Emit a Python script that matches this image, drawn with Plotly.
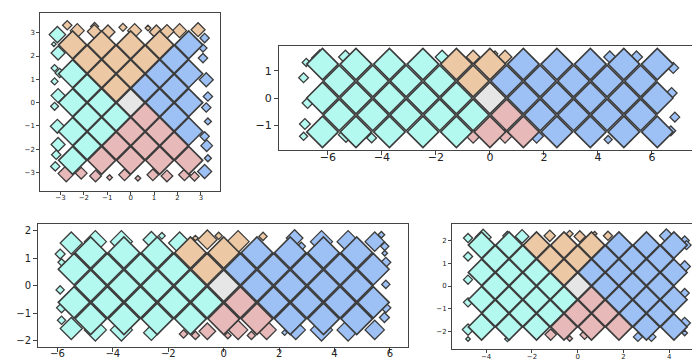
import plotly.graph_objects as go

# ---------------- data ----------------
# Panel 1 (top-left): main lattice columns / rows and edge diamonds
p1_cols = [-2.48, -1.86, -1.24, -0.62, 0.0, 0.62, 1.24, 1.86, 2.48]
p1_rows = [-2.48, -1.86, -1.24, -0.62, 0.0, 0.62, 1.24, 1.86, 2.48]
p1_half = 0.6
p1_edge_x = [-2.71, -2.28, -1.54, -0.97, -0.33, 0.17, 0.74, 1.10, 2.09, 2.88, 3.16, -3.13,
             -3.28, -3.10, -3.25, -3.03, -3.25, -3.10, -3.25, -3.13, -3.10, -3.18, -3.22,
             3.09, 3.09, 3.23, 3.30, 3.23, 3.30, 3.16, 3.25, 3.30, 3.16,
             -2.75, -2.11, -1.50, -0.90, -0.26, 0.31, 0.95, 1.55, 2.30, 2.73, -1.55, 1.55]
p1_edge_y = [3.32, 3.09, 3.27, 3.03, 3.23, 3.09, 3.20, 3.03, 3.09, 3.13, 2.77, 2.92,
             2.51, 2.13, 1.48, 1.27, 0.91, 0.30, -0.16, -1.02, -1.80, -2.24, -2.74,
             2.34, 1.91, 0.98, 0.26, -0.21, -0.81, -1.45, -1.85, -2.39, -2.96,
             -3.05, -3.03, -3.15, -3.22, -3.10, -3.25, -3.10, -3.15, -3.10, -3.17, 3.05, 3.05]
p1_edge_h = [0.20, 0.30, 0.17, 0.30, 0.17, 0.30, 0.12, 0.30, 0.30, 0.30, 0.20, 0.35,
             0.10, 0.30, 0.15, 0.20, 0.15, 0.30, 0.17, 0.30, 0.30, 0.20, 0.20,
             0.17, 0.20, 0.30, 0.20, 0.20, 0.15, 0.20, 0.25, 0.15, 0.30,
             0.35, 0.25, 0.25, 0.12, 0.25, 0.12, 0.25, 0.25, 0.25, 0.20, 0.30, 0.30]

# Panel 2 (top-right)
p2_cols = [-6.2, -5.58, -4.96, -4.34, -3.72, -3.1, -2.48, -1.86, -1.24, -0.62, 0.0,
           0.62, 1.24, 1.86, 2.48, 3.1, 3.72, 4.34, 4.96, 5.58, 6.2]
p2_rows = [-1.24, -0.62, 0.0, 0.62, 1.24]
p2_half = 0.58
p2_edge_x = [-6.30, -5.35, -1.77, -0.62, 0.19, 0.56, 4.44, 5.43, 6.30,
             -6.90, -5.33, -4.38, -0.62, 0.56, 1.73, 4.38, 5.19, 6.30,
             -6.90, -6.75, -6.85, -6.80, 6.79, 6.73, 6.85, 6.70]
p2_edge_y = [1.46, 1.50, 1.50, 1.50, 1.62, 1.50, 1.50, 1.50, 1.45,
             -1.40, -1.34, -1.46, -1.40, -1.40, -1.40, -1.52, -1.50, -1.40,
             0.74, -0.18, -0.95, 1.30, 1.10, 0.18, -0.70, -1.20]
p2_edge_h = [0.30, 0.25, 0.25, 0.25, 0.10, 0.25, 0.22, 0.22, 0.25,
             0.15, 0.28, 0.18, 0.25, 0.25, 0.25, 0.15, 0.08, 0.25,
             0.18, 0.20, 0.20, 0.15, 0.20, 0.20, 0.18, 0.18]

# Panel 3 (bottom-left)
p3_cols = [-5.4, -4.8, -4.2, -3.6, -3.0, -2.4, -1.8, -1.2, -0.6, 0.0,
           0.6, 1.2, 1.8, 2.4, 3.0, 3.6, 4.2, 4.8, 5.4]
p3_rows = [-1.2, -0.6, 0.0, 0.6, 1.2]
p3_half = 0.57
p3_edge_x = [-5.50, -4.63, -3.69, -2.61, -2.23, -1.59, -1.02, -0.59, -0.18, 0.52, 1.42,
             2.56, 2.80, 3.53, 4.49, 5.45, 5.69, 5.81, 5.81,
             -5.50, -4.63, -3.69, -2.61, -1.45, -1.02, -0.59, 0.15, 0.52, 1.0, 1.55,
             2.20, 2.60, 3.53, 4.49, 5.45,
             -5.90, -5.85, -5.90, -5.85, -5.85, 5.85, 5.85, 5.85, 5.80]
p3_edge_y = [1.55, 1.60, 1.60, 1.67, 1.81, 1.55, 1.73, 1.67, 1.81, 1.60, 1.79,
             1.73, 1.43, 1.60, 1.60, 1.60, 1.85, 1.43, 1.18,
             -1.55, -1.60, -1.60, -1.70, -1.75, -1.80, -1.65, -1.80, -1.60, -1.80, -1.60,
             -1.70, -1.60, -1.60, -1.60, -1.60,
             1.15, 0.85, -0.15, -0.80, -1.25, 0.85, 0.05, -0.80, -1.15]
p3_edge_h = [0.40, 0.40, 0.40, 0.30, 0.12, 0.40, 0.10, 0.35, 0.13, 0.40, 0.15,
             0.30, 0.15, 0.40, 0.40, 0.35, 0.12, 0.15, 0.10,
             0.40, 0.40, 0.40, 0.28, 0.15, 0.15, 0.30, 0.12, 0.35, 0.15, 0.35,
             0.10, 0.35, 0.40, 0.40, 0.35,
             0.18, 0.13, 0.15, 0.18, 0.15, 0.18, 0.15, 0.18, 0.18]

# Panel 4 (bottom-right)
p4_cols = [-4.2, -3.6, -3.0, -2.4, -1.8, -1.2, -0.6, 0.0, 0.6, 1.2, 1.8, 2.4, 3.0, 3.6, 4.2]
p4_rows = [-1.8, -1.2, -0.6, 0.0, 0.6, 1.2, 1.8]
p4_half = 0.58
p4_edge_x = [-4.79, -4.13, -3.07, -2.43, -1.22, -0.35, 0.09, 0.74, 1.32, 3.87, 4.67,
             -4.79, -4.79, -4.79, -4.79, -4.79,
             4.67, 4.67, 4.67, 4.67, 4.75,
             -3.07, -1.18, -0.35, 0.30, 2.63, 3.22]
p4_edge_y = [2.11, 2.15, 2.21, 2.18, 2.21, 2.30, 2.18, 2.30, 2.21, 2.21, 2.00,
             1.30, 0.28, -0.72, -1.92, -2.33,
             0.86, -0.31, -1.63, -2.07, 1.80,
             -2.33, -2.14, -2.31, -2.15, -2.24, -2.24]
p4_edge_h = [0.20, 0.35, 0.20, 0.30, 0.25, 0.15, 0.25, 0.10, 0.20, 0.30, 0.20,
             0.20, 0.20, 0.20, 0.25, 0.10,
             0.25, 0.20, 0.25, 0.12, 0.20,
             0.12, 0.25, 0.12, 0.20, 0.20, 0.20]

# ---------------- styling ----------------
COL_TOP = "#ECC8A4"
COL_RIGHT = "#9DC0F5"
COL_LEFT = "#B4F9EF"
COL_BOTTOM = "#E8B9B9"
COL_CENTER = "#E6E6E6"
EDGE = "#3c3c3c"
W, H = 700, 364


def region_color(x, y):
    e = 1e-6
    if abs(x) < e and abs(y) < e:
        return COL_CENTER
    if y > abs(x) + e:
        return COL_TOP
    if y < -abs(x) - e:
        return COL_BOTTOM
    if x > abs(y) + e:
        return COL_RIGHT
    if x < -abs(y) - e:
        return COL_LEFT
    if x > 0 and y > 0:
        return COL_RIGHT
    if x < 0 and y > 0:
        return COL_TOP
    if x < 0 and y < 0:
        return COL_LEFT
    return COL_BOTTOM


panels = [
    dict(cols=p1_cols, rows=p1_rows, half=p1_half, ex=p1_edge_x, ey=p1_edge_y, eh=p1_edge_h,
         px=(32.3, 212.3), py=(4.7, 183.3), xr=(-3.86, 3.83), yr=(-3.81, 3.86),
         xt=[-3, -2, -1, 0, 1, 2, 3], yt=[-3, -2, -1, 0, 1, 2, 3], fs=7, tl=3,
         xso=-4, yso=0),
    dict(cols=p2_cols, rows=p2_rows, half=p2_half, ex=p2_edge_x, ey=p2_edge_y, eh=p2_edge_h,
         px=(271.0, 691.7), py=(38.3, 141.7), xr=(-7.81, 7.77), yr=(-1.89, 1.89),
         xt=[-6, -4, -2, 0, 2, 4, 6], yt=[-1, 0, 1], fs=11, tl=4,
         xso=-7, yso=0),
    dict(cols=p3_cols, rows=p3_rows, half=p3_half, ex=p3_edge_x, ey=p3_edge_y, eh=p3_edge_h,
         px=(30.0, 400.0), py=(216.0, 339.0), xr=(-6.7, 6.65), yr=(-2.22, 2.24),
         xt=[-6, -4, -2, 0, 2, 4, 6], yt=[-2, -1, 0, 1, 2], fs=10, tl=4,
         xso=-7, yso=0),
    dict(cols=p4_cols, rows=p4_rows, half=p4_half, ex=p4_edge_x, ey=p4_edge_y, eh=p4_edge_h,
         px=(444.0, 695.0), py=(216.0, 340.7), xr=(-5.49, 5.47), yr=(-2.76, 2.73),
         xt=[-4, -2, 0, 2, 4], yt=[-2, -1, 0, 1, 2], fs=7, tl=3,
         xso=-2, yso=0),
]

fig = go.Figure()
layout = {}
for k, p in enumerate(panels, start=1):
    xa = "x" if k == 1 else f"x{k}"
    ya = "y" if k == 1 else f"y{k}"
    xkey = "xaxis" if k == 1 else f"xaxis{k}"
    ykey = "yaxis" if k == 1 else f"yaxis{k}"
    dx = [p["px"][0] / W, p["px"][1] / W]
    dy = [1 - p["py"][1] / H, 1 - p["py"][0] / H]
    ppu_x = (p["px"][1] - p["px"][0]) / (p["xr"][1] - p["xr"][0])
    ppu_y = (p["py"][1] - p["py"][0]) / (p["yr"][1] - p["yr"][0])
    ppu = (ppu_x + ppu_y) / 2

    # edge diamonds (underneath)
    fig.add_trace(go.Scatter(
        x=p["ex"], y=p["ey"], mode="markers", xaxis=xa, yaxis=ya, showlegend=False,
        hoverinfo="skip",
        marker=dict(symbol="diamond", size=[h * ppu / 0.65 for h in p["eh"]],
                    color=[region_color(a, b) for a, b in zip(p["ex"], p["ey"])],
                    line=dict(color=EDGE, width=1.3), opacity=1)))

    # main lattice (checkerboard of the rows and columns)
    c0 = min(range(len(p["cols"])), key=lambda i: abs(p["cols"][i]))
    r0 = min(range(len(p["rows"])), key=lambda j: abs(p["rows"][j]))
    mx, my = [], []
    for i, cx in enumerate(p["cols"]):
        for j, ry in enumerate(p["rows"]):
            if ((i - c0) + (j - r0)) % 2 == 0:
                mx.append(cx)
                my.append(ry)
    fig.add_trace(go.Scatter(
        x=mx, y=my, mode="markers", xaxis=xa, yaxis=ya, showlegend=False, hoverinfo="skip",
        marker=dict(symbol="diamond", size=p["half"] * ppu / 0.65,
                    color=[region_color(a, b) for a, b in zip(mx, my)],
                    line=dict(color=EDGE, width=1.6), opacity=1)))

    axcommon = dict(showline=True, mirror=True, linecolor="#444", linewidth=1,
                    ticks="outside", ticklen=p["tl"], tickcolor="#444", tickwidth=1,
                    showgrid=False, zeroline=False,
                    tickfont=dict(family="DejaVu Sans", size=p["fs"], color="#222"))
    layout[xkey] = dict(domain=dx, range=list(p["xr"]), anchor=ya, tickvals=p["xt"],
                        ticklabelstandoff=p["xso"], **axcommon)
    layout[ykey] = dict(domain=dy, range=list(p["yr"]), anchor=xa, tickvals=p["yt"],
                        ticklabelstandoff=p["yso"], **axcommon)

fig.update_layout(width=W, height=H, margin=dict(l=0, r=0, t=0, b=0),
                  paper_bgcolor="white", plot_bgcolor="white", **layout)
fig.write_html("out.html")
